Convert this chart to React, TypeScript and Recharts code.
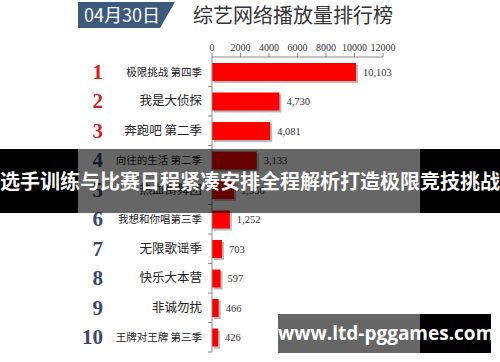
import React from 'react';
import { BarChart, Bar, XAxis, YAxis, LabelList } from 'recharts';

const shows = [
  '极限挑战 第四季',
  '我是大侦探',
  '奔跑吧 第二季',
  '向往的生活 第二季',
  '热血街舞团',
  '我想和你唱第三季',
  '无限歌谣季',
  '快乐大本营',
  '非诚勿扰',
  '王牌对王牌 第三季',
];
const plays = [10103, 4730, 4081, 3133, 1550, 1252, 703, 597, 466, 426];
const xTicks = [0, 2000, 4000, 6000, 8000, 10000, 12000];

const data = shows.map((name, i) => ({ name, rank: i + 1, value: plays[i] }));

const serif = '"Liberation Serif", "DejaVu Serif", serif';
const cjk = '"Noto Sans CJK SC", "Noto Sans", sans-serif';

function ShowTick(props: any) {
  const { y, payload } = props;
  const d = data[payload.index];
  const long = d.name.length > 7;
  return (
    <g>
      <text
        x={103}
        y={y}
        dy={7}
        textAnchor="end"
        fontFamily={serif}
        fontWeight="bold"
        fontSize={21}
        fill={d.rank <= 3 ? '#d2231e' : '#3a486a'}
      >
        {d.rank}
      </text>
      <text
        x={202}
        y={y}
        dy={4}
        textAnchor="end"
        fontFamily={cjk}
        fontSize={long ? 10.5 : 12.5}
        fill="#222"
      >
        {d.name}
      </text>
      <line x1={208} x2={212} y1={y + 14.75} y2={y + 14.75} stroke="#888" />
    </g>
  );
}

function ShadowBar(props: any) {
  const { x, y, width, height } = props;
  return (
    <g>
      <rect x={x + 2} y={y + 2} width={width} height={height} fill="#b9b9b9" />
      <rect x={x} y={y} width={width} height={height} fill="#ff0000" />
    </g>
  );
}

export default function App() {
  return (
    <div style={{ position: 'relative', width: 500, height: 362, background: '#fff', overflow: 'hidden' }}>
      <style>{'body{margin:0}'}</style>

      <svg width={500} height={40} style={{ position: 'absolute', left: 0, top: 0 }}>
        <polygon points="78,2 175,2 160,28 78,28" fill="#3d5a7b" />
        <text x={84} y={22} fontFamily={cjk} fontSize={18} fill="#fff">
          04月30日
        </text>
        <text x={193} y={23} fontFamily={cjk} fontSize={20} fill="#333">
          综艺网络播放量排行榜
        </text>
      </svg>

      <div style={{ position: 'absolute', left: 0, top: 0 }}>
        <BarChart
          width={500}
          height={362}
          data={data}
          layout="vertical"
          margin={{ top: 34, right: 117, bottom: 10, left: 0 }}
          barSize={18}
        >
          <XAxis
            type="number"
            orientation="top"
            domain={[0, 12000]}
            ticks={xTicks}
            interval={0}
            height={23}
            tickSize={4}
            stroke="#888"
            tick={{ fontFamily: serif, fontSize: 10, fill: '#333' }}
          />
          <YAxis
            type="category"
            dataKey="name"
            width={212}
            tickLine={false}
            stroke="#888"
            interval={0}
            tick={<ShowTick />}
          />
          <Bar dataKey="value" shape={<ShadowBar />} isAnimationActive={false}>
            <LabelList
              dataKey="value"
              position="right"
              offset={7}
              formatter={(v: any) => Number(v).toLocaleString('en-US')}
              style={{ fontFamily: serif, fontSize: 10.5, fill: '#333' }}
            />
          </Bar>
        </BarChart>
      </div>

      <div style={{ position: 'absolute', left: 0, top: 149, width: 78, height: 64, background: '#000' }} />
      <div style={{ position: 'absolute', left: 78, top: 149, width: 342, height: 64, background: 'rgba(0,0,0,0.6)' }} />
      <div style={{ position: 'absolute', left: 420, top: 149, width: 80, height: 64, background: '#000' }} />
      <div
        style={{
          position: 'absolute',
          left: 0,
          top: 149,
          width: 500,
          height: 64,
          lineHeight: '64px',
          textAlign: 'center',
          color: '#fff',
          fontFamily: cjk,
          fontWeight: 'bold',
          fontSize: 20,
          whiteSpace: 'nowrap',
        }}
      >
        选手训练与比赛日程紧凑安排全程解析打造极限竞技挑战
      </div>

      <div style={{ position: 'absolute', left: 278, top: 314, width: 142, height: 39, background: 'rgba(0,0,0,0.6)' }} />
      <div style={{ position: 'absolute', left: 420, top: 314, width: 71, height: 39, background: '#000' }} />
      <div
        style={{
          position: 'absolute',
          left: 278,
          top: 314,
          width: 213,
          height: 39,
          lineHeight: '39px',
          textAlign: 'center',
          color: '#fff',
          fontFamily: '"Open Sans", "Noto Sans", sans-serif',
          fontWeight: 'bold',
          fontSize: 19,
          whiteSpace: 'nowrap',
        }}
      >
        www.ltd-pggames.com
      </div>
    </div>
  );
}
